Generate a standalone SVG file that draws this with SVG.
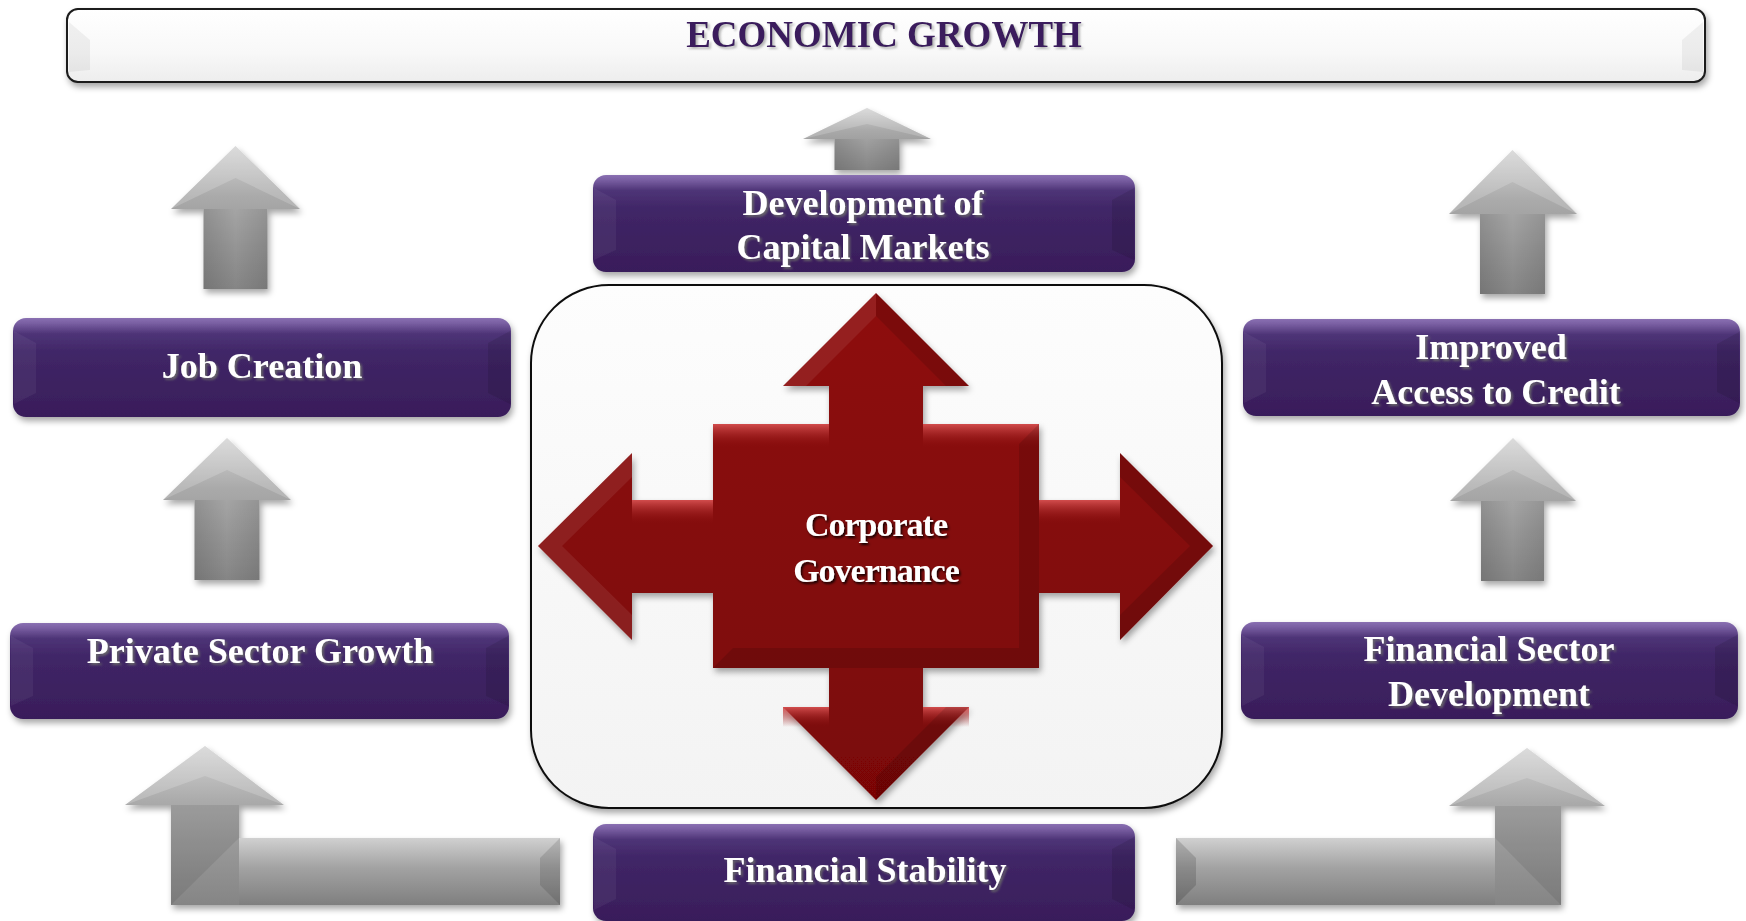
<svg xmlns="http://www.w3.org/2000/svg" width="1746" height="921" viewBox="0 0 1746 921">
<style>
.lbl{font-family:"Liberation Serif","Times New Roman",serif;font-weight:bold;font-size:36px;fill:#ffffff;text-anchor:middle;filter:url(#tshadow)}
.title{font-family:"Liberation Serif","Times New Roman",serif;font-weight:bold;font-size:37px;fill:#3a1d5d;text-anchor:middle;filter:url(#tshadowLight)}
.cg{font-family:"Liberation Serif","Times New Roman",serif;font-weight:bold;font-size:34px;fill:#ffffff;text-anchor:middle;letter-spacing:-1px;filter:url(#tshadowDark)}
.pbox{fill:url(#purpleGrad);filter:url(#shadow)}
.bevL{fill:#ffffff;opacity:0.05}
.bevR{fill:#000000;opacity:0.10}
.garrow{fill:url(#grayGrad);filter:url(#shadow)}
.gshade{fill:url(#grayShade)}
.ghead{fill:#ffffff;opacity:0.18}
.rhl{fill:url(#redHL)}
.rdark{fill:#000000;opacity:0.12}
.rlight{fill:#ffffff;opacity:0.08}
</style>
<defs>
<filter id="shadow" x="-10%" y="-15%" width="125%" height="145%">
<feDropShadow dx="2" dy="4" stdDeviation="3" flood-color="#000000" flood-opacity="0.35"/>
</filter>
<filter id="tshadow" x="-5%" y="-20%" width="115%" height="150%">
<feDropShadow dx="2" dy="2" stdDeviation="1" flood-color="#6a6a6a" flood-opacity="0.9"/>
</filter>
<filter id="tshadowLight" x="-5%" y="-20%" width="115%" height="150%">
<feDropShadow dx="2" dy="2" stdDeviation="1" flood-color="#9a9a9a" flood-opacity="0.7"/>
</filter>
<filter id="tshadowDark" x="-5%" y="-20%" width="115%" height="150%">
<feDropShadow dx="1.5" dy="2" stdDeviation="1" flood-color="#000000" flood-opacity="0.85"/>
</filter>
<linearGradient id="purpleGrad" x1="0" y1="0" x2="0" y2="1">
<stop offset="0" stop-color="#8a70b2"/>
<stop offset="0.05" stop-color="#7a60a3"/>
<stop offset="0.16" stop-color="#4e3477"/>
<stop offset="0.35" stop-color="#402667"/>
<stop offset="1" stop-color="#391d5a"/>
</linearGradient>
<linearGradient id="titleGrad" x1="0" y1="0" x2="0" y2="1">
<stop offset="0" stop-color="#ffffff"/>
<stop offset="0.6" stop-color="#f8f8f8"/>
<stop offset="1" stop-color="#ededed"/>
</linearGradient>
<linearGradient id="boxGrad" x1="0" y1="0" x2="0" y2="1">
<stop offset="0" stop-color="#fdfdfd"/>
<stop offset="1" stop-color="#f3f3f3"/>
</linearGradient>
<linearGradient id="grayGrad" x1="0" y1="0" x2="0" y2="1">
<stop offset="0" stop-color="#d4d4d4"/>
<stop offset="0.35" stop-color="#aaaaaa"/>
<stop offset="0.7" stop-color="#959595"/>
<stop offset="1" stop-color="#858585"/>
</linearGradient>
<linearGradient id="grayShade" x1="0" y1="0" x2="1" y2="0">
<stop offset="0" stop-color="#000000" stop-opacity="0.12"/>
<stop offset="0.5" stop-color="#000000" stop-opacity="0"/>
<stop offset="1" stop-color="#000000" stop-opacity="0.10"/>
</linearGradient>
<linearGradient id="barGrad" x1="0" y1="0" x2="0" y2="1">
<stop offset="0" stop-color="#d0d0d0"/>
<stop offset="0.45" stop-color="#a2a2a2"/>
<stop offset="1" stop-color="#7f7f7f"/>
</linearGradient>
<linearGradient id="redHL" x1="0" y1="0" x2="0" y2="1">
<stop offset="0" stop-color="#d65050" stop-opacity="0.95"/>
<stop offset="1" stop-color="#8a0c0c" stop-opacity="0"/>
</linearGradient>
<linearGradient id="redBase" x1="0" y1="0" x2="0" y2="1">
<stop offset="0" stop-color="#8e1111"/>
<stop offset="1" stop-color="#7a0606"/>
</linearGradient>
</defs>

<rect x="0" y="0" width="1746" height="921" fill="#ffffff"/>

<g id="economic-growth">
<rect x="67" y="9" width="1638" height="73" rx="11" fill="url(#titleGrad)" stroke="#1a1a1a" stroke-width="2" filter="url(#shadow)"/>
<polygon points="69,22 90,40 90,70 69,72" fill="#000000" opacity="0.05"/>
<polygon points="1703,22 1682,40 1682,70 1703,72" fill="#000000" opacity="0.05"/>
<text class="title" x="884" y="47">ECONOMIC GROWTH</text>
</g>

<g id="connectors">
<g id="arrow-job-to-growth">
<path class="garrow" d="M235.5 146 L300 209 L267.5 209 L267.5 289 L203.5 289 L203.5 209 L171 209 Z"/>
<rect class="gshade" x="203.5" y="209" width="64" height="80"/>
<polygon class="ghead" points="235.5,146 300,209 235.5,178 171,209"/>
</g>
<g id="arrow-private-to-job">
<path class="garrow" d="M227 438 L291 500 L259.5 500 L259.5 580 L194.5 580 L194.5 500 L163 500 Z"/>
<rect class="gshade" x="194.5" y="500" width="65" height="80"/>
<polygon class="ghead" points="227,438 291,500 227,470 163,500"/>
</g>
<g id="arrow-capital-to-growth">
<path class="garrow" d="M867 108 L931 139 L899.5 139 L899.5 170 L834.5 170 L834.5 139 L803 139 Z"/>
<rect class="gshade" x="834.5" y="139" width="65" height="31"/>
<polygon class="ghead" points="867,108 931,139 867,124 803,139"/>
</g>
<g id="arrow-credit-to-growth">
<path class="garrow" d="M1512.5 150 L1577 214 L1545 214 L1545 294 L1480 294 L1480 214 L1449 214 Z"/>
<rect class="gshade" x="1480" y="214" width="65" height="80"/>
<polygon class="ghead" points="1512.5,150 1577,214 1512.5,182 1449,214"/>
</g>
<g id="arrow-finsector-to-credit">
<path class="garrow" d="M1513 438 L1576 501 L1544 501 L1544 581 L1481 581 L1481 501 L1450 501 Z"/>
<rect class="gshade" x="1481" y="501" width="63" height="80"/>
<polygon class="ghead" points="1513,438 1576,501 1513,470 1450,501"/>
</g>
<g id="arrow-stability-to-private">
<path class="garrow" d="M560 838 L239 838 L239 805 L284 805 L205 746 L125 805 L171 805 L171 905 L560 905 Z"/>
<rect x="239" y="838" width="321" height="67" fill="url(#barGrad)"/>
<polygon points="171,805 239,805 239,838 171,905" fill="#000000" opacity="0.08"/>
<polygon points="560,838 540,858 540,885 560,905" fill="#000000" opacity="0.12"/>
<polygon class="ghead" points="205,746 284,805 205,776 125,805"/>
</g>
<g id="arrow-stability-to-finsector">
<path class="garrow" d="M1176 838 L1495 838 L1495 806 L1449 806 L1527 748 L1605 806 L1561 806 L1561 905 L1176 905 Z"/>
<rect x="1176" y="838" width="319" height="67" fill="url(#barGrad)"/>
<polygon points="1495,806 1561,806 1561,905 1495,838" fill="#000000" opacity="0.08"/>
<polygon points="1176,838 1196,858 1196,885 1176,905" fill="#000000" opacity="0.15"/>
<polygon class="ghead" points="1527,748 1605,806 1527,778 1449,806"/>
</g>
</g>

<g id="corporate-governance">
<rect x="531" y="285" width="691" height="523" rx="78" ry="78" fill="url(#boxGrad)" stroke="#111111" stroke-width="2" filter="url(#shadow)"/>
<path d="M876 293 L969 386 L923 386 L923 424 L1039 424 L1039 500 L1120 500 L1120 453 L1213 546 L1120 640 L1120 593 L1039 593 L1039 668 L923 668 L923 707 L969 707 L876 800 L783 707 L829 707 L829 668 L713 668 L713 593 L632 593 L632 640 L538 546 L632 453 L632 500 L713 500 L713 424 L829 424 L829 386 L783 386 Z" fill="url(#redBase)" filter="url(#shadow)"/>
<rect class="rhl" x="713" y="424" width="116" height="24"/>
<rect class="rhl" x="923" y="424" width="116" height="24"/>
<rect class="rhl" x="632" y="500" width="81" height="24"/>
<rect class="rhl" x="1039" y="500" width="81" height="24"/>
<rect class="rhl" x="783" y="707" width="46" height="20"/>
<rect class="rhl" x="923" y="707" width="46" height="20"/>
<polygon class="rlight" points="876,293 783,386 806,386 876,316"/>
<polygon class="rdark" points="876,293 969,386 946,386 876,316"/>
<polygon class="rdark" points="1120,453 1213,546 1120,640 1120,615 1190,546 1120,477"/>
<polygon class="rlight" points="632,453 538,546 632,640 632,615 562,546 632,477"/>
<polygon class="rdark" points="876,800 969,707 946,707 876,777"/>
<polygon class="rdark" points="1039,424 1039,668 1019,648 1019,444"/>
<polygon class="rdark" points="713,668 1039,668 1019,648 733,648"/>
<text class="cg" x="876" y="536">Corporate</text>
<text class="cg" x="876" y="582">Governance</text>
</g>

<g id="development-capital-markets">
<rect class="pbox" x="593" y="175" width="542" height="97" rx="13"/>
<polygon class="bevL" points="594,188 616,200 616,250 594,260"/>
<polygon class="bevR" points="1134,188 1112,200 1112,250 1134,260"/>
<text class="lbl" x="863" y="215">Development of</text>
<text class="lbl" x="863" y="259">Capital Markets</text>
</g>

<g id="job-creation">
<rect class="pbox" x="13" y="318" width="498" height="99" rx="13"/>
<polygon class="bevL" points="14,331 36,343 36,393 14,404"/>
<polygon class="bevR" points="510,331 488,343 488,393 510,404"/>
<text class="lbl" x="262" y="378">Job Creation</text>
</g>

<g id="improved-access-credit">
<rect class="pbox" x="1243" y="319" width="497" height="97" rx="13"/>
<polygon class="bevL" points="1244,332 1266,344 1266,392 1244,403"/>
<polygon class="bevR" points="1739,332 1717,344 1717,392 1739,403"/>
<text class="lbl" x="1491" y="359">Improved</text>
<text class="lbl" x="1496" y="404">Access to Credit</text>
</g>

<g id="private-sector-growth">
<rect class="pbox" x="10" y="623" width="499" height="96" rx="13"/>
<polygon class="bevL" points="11,636 33,648 33,696 11,706"/>
<polygon class="bevR" points="508,636 486,648 486,696 508,706"/>
<text class="lbl" x="260" y="663">Private Sector Growth</text>
</g>

<g id="financial-sector-development">
<rect class="pbox" x="1241" y="622" width="497" height="97" rx="13"/>
<polygon class="bevL" points="1242,635 1264,647 1264,695 1242,706"/>
<polygon class="bevR" points="1737,635 1715,647 1715,695 1737,706"/>
<text class="lbl" x="1489" y="661">Financial Sector</text>
<text class="lbl" x="1489" y="706">Development</text>
</g>

<g id="financial-stability">
<rect class="pbox" x="593" y="824" width="542" height="97" rx="13"/>
<polygon class="bevL" points="594,837 616,849 616,899 594,910"/>
<polygon class="bevR" points="1134,837 1112,849 1112,899 1134,910"/>
<text class="lbl" x="865" y="882">Financial Stability</text>
</g>
</svg>
